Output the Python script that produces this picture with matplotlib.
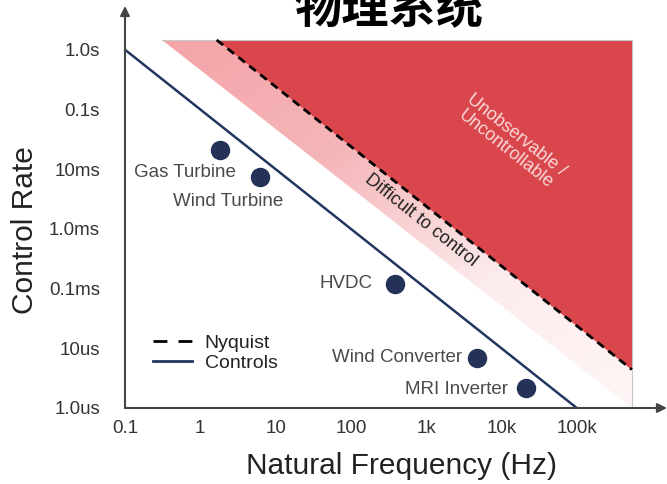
import numpy as np
import matplotlib
matplotlib.use("Agg")
import matplotlib.pyplot as plt
from matplotlib.patches import Polygon
from matplotlib.lines import Line2D
from matplotlib.colors import LinearSegmentedColormap

plt.rcParams['font.family'] = ['Liberation Sans', 'DejaVu Sans']

# axis ticks
freq_ticks = [0.1, 1, 10, 100, 1e3, 1e4, 1e5]
freq_labels = ["0.1", "1", "10", "100", "1k", "10k", "100k"]
rate_ticks = [1, 0.1, 1e-2, 1e-3, 1e-4, 1e-5, 1e-6]
rate_labels = ["1.0s", "0.1s", "10ms", "1.0ms", "0.1ms", "10us", "1.0us"]

# systems
systems = ["Gas Turbine", "Wind Turbine", "HVDC", "Wind Converter", "MRI Inverter"]
sys_freq = [1.8, 6.2, 390, 4700, 21000]
sys_rate = [2.1e-2, 7.4e-3, 1.2e-4, 6.9e-6, 2.2e-6]

# boundary lines
controls_freq = [0.1, 1e5]
controls_rate = [1.0, 1e-6]
nyquist_freq = [1.65, 5.4e5]
nyquist_rate = [1.46, 4.4e-6]
difficult_freq = [0.31, 5.4e5]
difficult_rate = [1.46, 1e-6]

# label offsets in points (dx, dy)
label_offsets = [(12, -16), (16.5, -18), (-16.5, 0), (-10.5, 0), (-13, -1.5)]

NAVY = '#243257'
LINE = '#22365f'
RED = '#d9464b'
GRAY = '#444444'

fig = plt.figure(figsize=(6.67, 4.84), dpi=100)
ax = fig.add_axes([125 / 667, 76 / 484, 542 / 667, 400 / 484])
ax.set_xscale('log')
ax.set_yscale('log')
ax.set_xlim(0.1, 1.58e6)
ax.set_ylim(1e-6, 5.0)

# pink "difficult" band with gradient
f_left, f_right = difficult_freq
t_top = difficult_rate[0]
band = Polygon([(f_left, t_top), (f_right, t_top), (f_right, difficult_rate[1])],
               closed=True, facecolor='none', edgecolor='none', transform=ax.transData)
ax.add_patch(band)
X, Y = np.meshgrid(np.linspace(0, 1, 300), np.linspace(0, 1, 300))
g = X + (1 - Y)
cmap = LinearSegmentedColormap.from_list('band', ['#f4a4a8', '#f5b6b9', '#fcebec', '#fef6f6'])
img = ax.imshow(g, extent=(0, 1, 0, 1), transform=ax.transAxes, origin='lower',
                aspect='auto', cmap=cmap, vmin=0.15, vmax=1.95, zorder=1)
img.set_clip_path(band)

# dark red region above nyquist
red = Polygon([(nyquist_freq[0], nyquist_rate[0]), (f_right, t_top), (nyquist_freq[1], nyquist_rate[1])],
              closed=True, facecolor=RED, edgecolor='none', zorder=2)
ax.add_patch(red)
ax.plot([f_left, f_right, f_right], [t_top, t_top, difficult_rate[1]], color='#c8c8c8', lw=0.8, zorder=3)

ax.plot(nyquist_freq, nyquist_rate, color='black', lw=2, linestyle=(0, (3, 2)), zorder=4)
ax.plot(controls_freq, controls_rate, color=LINE, lw=1.8, zorder=4)

ax.plot(sys_freq, sys_rate, 'o', color=NAVY, markersize=13, zorder=5)
for name, f, r, off in zip(systems, sys_freq, sys_rate, label_offsets):
    ax.annotate(name, (f, r), xytext=off, textcoords='offset points',
                ha='right', va='center', fontsize=13.5, color='#4a4a4a', zorder=6)

ax.text(0.546, 0.47, "Difficult to control", transform=ax.transAxes, rotation=-38.4,
        ha='center', va='center', fontsize=13, color='#222222', rotation_mode='anchor', zorder=6)
ax.text(0.712, 0.665, "Unobservable /\nUncontrollable", transform=ax.transAxes, rotation=-38.4,
        ha='center', va='center', fontsize=13, color='#f9d8d8', rotation_mode='anchor',
        linespacing=1.05, zorder=6)

# axes with arrows
for s in ax.spines.values():
    s.set_visible(False)
arrow = dict(arrowstyle='-|>', color=GRAY, lw=1.5, mutation_scale=14, shrinkA=0, shrinkB=0)
ax.annotate('', xy=(1, 0), xytext=(0, 0), xycoords='axes fraction', arrowprops=arrow, zorder=7)
ax.annotate('', xy=(0, 1.005), xytext=(0, 0), xycoords='axes fraction', arrowprops=arrow, zorder=7)

ax.set_xticks(freq_ticks)
ax.set_xticklabels(freq_labels)
ax.set_yticks(rate_ticks)
ax.set_yticklabels(rate_labels)
ax.minorticks_off()
ax.tick_params(axis='x', length=0, pad=8.5, labelsize=13.5, labelcolor='#333333')
ax.tick_params(axis='y', length=0, pad=18, labelsize=13.5, labelcolor='#333333')

fig.text(401 / 667, 1 - 466 / 484, "Natural Frequency (Hz)", ha='center', va='center',
         fontsize=21.5, color='#222222')
fig.text(25 / 667, 1 - 230 / 484, "Control Rate", ha='center', va='center', rotation=90,
         fontsize=21.5, color='#222222')

handles = [Line2D([], [], color='black', lw=2, linestyle=(0, (5, 4))),
           Line2D([], [], color=LINE, lw=2)]
leg = ax.legend(handles, ['Nyquist', 'Controls'], loc='upper left', bbox_to_anchor=(0.052, 0.185),
                frameon=False, fontsize=14, handlelength=2.0, handletextpad=0.65,
                labelspacing=0.15, borderpad=0, borderaxespad=0)
for t in leg.get_texts():
    t.set_color('#222222')

fig.text(389 / 667, 1 - 9 / 484, "物理系统", ha='center', va='center', fontsize=34,
         fontweight='bold', family=['Noto Sans CJK SC', 'DejaVu Sans'], color='black')

fig.savefig('out.png', dpi=100)
